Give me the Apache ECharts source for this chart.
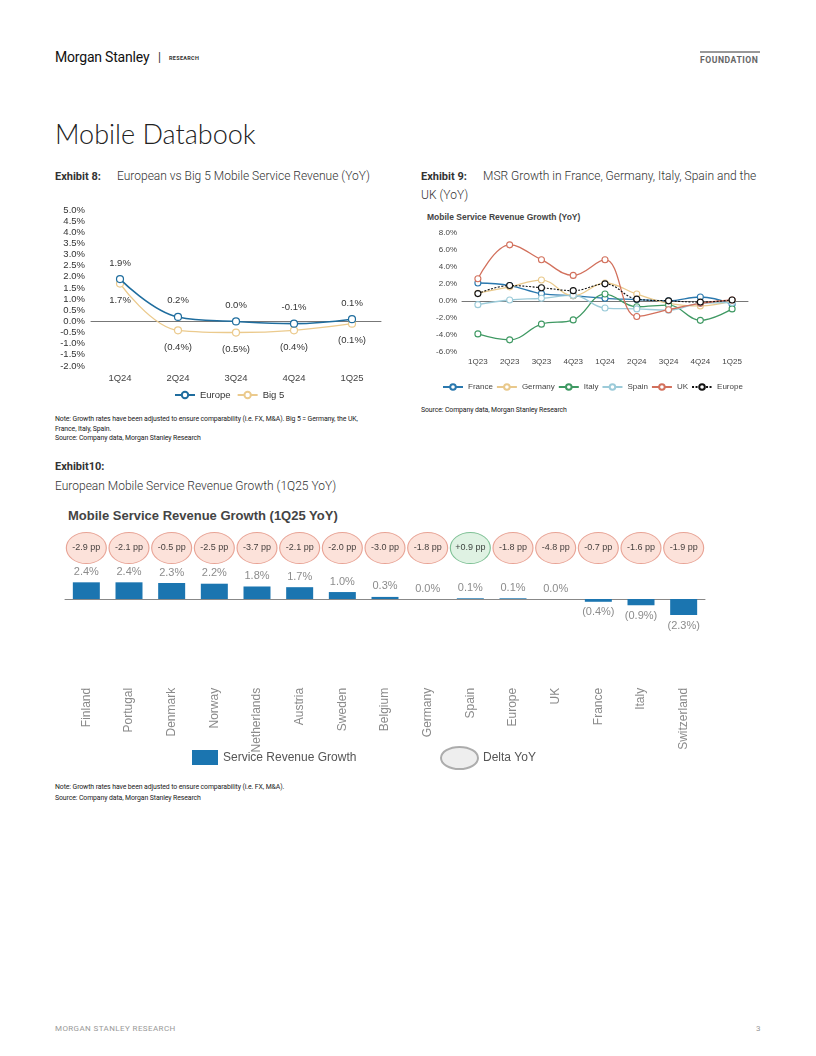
<!DOCTYPE html>
<html>
<head>
<meta charset="utf-8">
<script src="https://cdn.jsdelivr.net/npm/echarts@6/dist/echarts.min.js"></script>
<style>
  html, body { margin:0; padding:0; background:#fff; }
  #page { position:relative; width:816px; height:1056px; overflow:hidden; font-family:Roboto, "Liberation Sans", Arial, sans-serif; color:#222; }
  .abs { position:absolute; white-space:nowrap; }
  .ms { font-family:"Liberation Sans Narrow", "Roboto", sans-serif; font-size:14px; color:#111; letter-spacing:-0.2px; }
  .exh { font-size:11px; font-weight:bold; color:#333; }
  .sub { font-size:12px; font-weight:300; color:#333; }
  .note { font-size:6.9px; color:#222; letter-spacing:-0.1px; line-height:9.5px; }
  .chart { position:absolute; }
</style>
</head>
<body>
<div id="page">
  <div class="abs ms" style="left:55px; top:49px;">Morgan Stanley</div>
  <div class="abs" style="left:158px; top:50px; font-size:12px; color:#333;">|</div>
  <div class="abs" style="left:169px; top:55px; font-size:5.5px; font-weight:bold; color:#333; letter-spacing:0.3px;">RESEARCH</div>
  <div class="abs" style="left:700px; top:51px; width:60px; border-top:2px solid #999;"></div>
  <div class="abs" style="left:700px; top:55px; font-size:8.6px; font-weight:bold; color:#666; letter-spacing:0.55px;">FOUNDATION</div>

  <div class="abs" style="left:55px; top:117px; font-size:27px; font-weight:300; color:#222; font-family:Lato, Roboto, sans-serif;">Mobile Databook</div>

  <div class="abs exh" style="left:55px; top:170px;">Exhibit 8:</div>
  <div class="abs sub" style="left:117px; top:169px;">European vs Big 5 Mobile Service Revenue (YoY)</div>

  <div class="abs exh" style="left:421px; top:170px;">Exhibit 9:</div>
  <div class="abs sub" style="left:483px; top:169px;">MSR Growth in France, Germany, Italy, Spain and the</div>
  <div class="abs sub" style="left:421px; top:188px;">UK (YoY)</div>
  <div class="abs" style="left:427px; top:212px; font-size:8.5px; font-weight:bold; color:#444; font-family:'Liberation Sans', Arial, sans-serif;">Mobile Service Revenue Growth (YoY)</div>

  <div id="c8" class="chart" style="left:55px; top:195px; width:345px; height:215px;"></div>
  <div id="c9" class="chart" style="left:415px; top:225px; width:400px; height:175px;"></div>

  <div class="abs note" style="left:55px; top:415px;">Note: Growth rates have been adjusted to ensure comparability (i.e. FX, M&amp;A). Big 5 = Germany, the UK,<br>France, Italy, Spain.<br>Source: Company data, Morgan Stanley Research</div>
  <div class="abs note" style="left:421px; top:406px;">Source: Company data, Morgan Stanley Research</div>

  <div class="abs exh" style="left:55px; top:460px;">Exhibit10:</div>
  <div class="abs sub" style="left:55px; top:479px;">European Mobile Service Revenue Growth (1Q25 YoY)</div>
  <div class="abs" style="left:68px; top:508px; font-size:13px; font-weight:bold; color:#444; font-family:'Liberation Sans', Arial, sans-serif;">Mobile Service Revenue Growth (1Q25 YoY)</div>

  <div id="c10" class="chart" style="left:55px; top:525px; width:680px; height:255px;"></div>

  <div class="abs note" style="left:55px; top:782px; line-height:10.5px;">Note: Growth rates have been adjusted to ensure comparability (i.e. FX, M&amp;A).<br>Source: Company data, Morgan Stanley Research</div>

  <div class="abs" style="left:55px; top:1024px; font-size:8px; color:#999; letter-spacing:0.4px;">MORGAN STANLEY RESEARCH</div>
  <div class="abs" style="left:756px; top:1024px; font-size:8px; color:#999;">3</div>
</div>

<script>
// ---------- Data ----------
const ex8Categories = ['1Q24', '2Q24', '3Q24', '4Q24', '1Q25'];
const ex8Europe = [1.9, 0.2, 0.0, -0.1, 0.1];
const ex8Big5 = [1.7, -0.4, -0.5, -0.4, -0.1];

const ex9Categories = ['1Q23', '2Q23', '3Q23', '4Q23', '1Q24', '2Q24', '3Q24', '4Q24', '1Q25'];
const ex9France  = [2.1, 1.8, 0.85, 0.6, 0.3, 0.15, 0.0, 0.45, -0.4];
const ex9Germany = [0.9, 1.65, 2.45, 0.6, 2.1, 0.8, -0.3, -0.6, 0.0];
const ex9Italy   = [-3.9, -4.6, -2.75, -2.25, 0.8, -0.7, -0.5, -2.3, -0.95];
const ex9Spain   = [-0.45, 0.1, 0.3, 0.65, -0.85, -0.95, -1.1, -0.3, -0.2];
const ex9UK      = [2.6, 6.6, 4.85, 3.0, 4.85, -1.85, -1.05, -0.3, 0.1];
const ex9Europe  = [0.85, 1.8, 1.55, 1.2, 2.0, 0.2, 0.0, -0.15, 0.1];

const ex10Countries = ['Finland', 'Portugal', 'Denmark', 'Norway', 'Netherlands', 'Austria', 'Sweden', 'Belgium', 'Germany', 'Spain', 'Europe', 'UK', 'France', 'Italy', 'Switzerland'];
const ex10Growth = [2.4, 2.4, 2.3, 2.2, 1.8, 1.7, 1.0, 0.3, 0.0, 0.1, 0.1, 0.0, -0.4, -0.9, -2.3];
const ex10DeltaPP = [-2.9, -2.1, -0.5, -2.5, -3.7, -2.1, -2.0, -3.0, -1.8, 0.9, -1.8, -4.8, -0.7, -1.6, -1.9];

// ---------- Helpers ----------
const FONT = "'Liberation Sans', Arial, sans-serif";
const pctParen = v => v < 0 ? '(' + Math.abs(v).toFixed(1) + '%)' : v.toFixed(1) + '%';
const pctPlain = v => v.toFixed(1) + '%';

// ---------- Exhibit 8 ----------
const c8 = echarts.init(document.getElementById('c8'), null, { renderer: 'canvas' });
c8.setOption({
  animation: false,
  textStyle: { fontFamily: FONT },
  grid: { left: 36, top: 15, width: 290, height: 156, containLabel: false, outerBoundsMode: 'none' },
  legend: {
    left: 119, top: 195, padding: 0, itemWidth: 20, itemHeight: 8, itemGap: 6,
    textStyle: { fontSize: 9.5, color: '#333', fontFamily: FONT },
    data: ['Europe', 'Big 5']
  },
  xAxis: {
    type: 'category', data: ex8Categories,
    axisLine: { onZero: true, lineStyle: { color: '#777', width: 1 } },
    axisTick: { show: false },
    axisLabel: { margin: 7, fontSize: 9.5, color: '#444' }
  },
  yAxis: {
    type: 'value', min: -2, max: 5, interval: 0.5,
    axisLine: { show: false }, axisTick: { show: false }, splitLine: { show: false },
    axisLabel: { margin: 6, fontSize: 9.5, color: '#333', formatter: v => v.toFixed(1) + '%' }
  },
  series: [
    {
      name: 'Europe', type: 'line', data: ex8Europe, smooth: 0.4,
      symbol: 'circle', symbolSize: 7, z: 3,
      lineStyle: { color: '#1f6d9e', width: 1.6 },
      itemStyle: { color: '#ffffff', borderColor: '#1f6d9e', borderWidth: 1.2 },
      label: { show: true, position: 'top', distance: 7, fontSize: 9.5, color: '#333', formatter: p => pctPlain(p.value) }
    },
    {
      name: 'Big 5', type: 'line', data: ex8Big5, smooth: 0.4,
      symbol: 'circle', symbolSize: 7, z: 2,
      lineStyle: { color: '#ebca8d', width: 1.4 },
      itemStyle: { color: '#ffffff', borderColor: '#ebca8d', borderWidth: 1.2 },
      label: { show: true, position: 'bottom', distance: 8, fontSize: 9.5, color: '#333', formatter: p => pctParen(p.value) }
    }
  ]
});

// ---------- Exhibit 9 ----------
const c9 = echarts.init(document.getElementById('c9'), null, { renderer: 'canvas' });
function ex9Series(name, data, color, dashed) {
  return {
    name: name, type: 'line', data: data, smooth: 0.4,
    symbol: 'circle', symbolSize: 6,
    lineStyle: { color: color, width: dashed ? 1.1 : 1.3, type: dashed ? [2, 1.5] : 'solid' },
    itemStyle: { color: '#ffffff', borderColor: color, borderWidth: 1.1 },
    z: dashed ? 5 : 3
  };
}
c9.setOption({
  animation: false,
  textStyle: { fontFamily: FONT },
  grid: { left: 47, top: 8, width: 286, height: 118.7, containLabel: false, outerBoundsMode: 'none' },
  legend: {
    left: 27, top: 158, padding: 0, itemWidth: 20, itemHeight: 7, itemGap: 3,
    textStyle: { fontSize: 8, color: '#444', fontFamily: FONT },
    data: ['France', 'Germany', 'Italy', 'Spain', 'UK', 'Europe']
  },
  xAxis: {
    type: 'category', data: ex9Categories,
    axisLine: { onZero: true, lineStyle: { color: '#777', width: 1 } },
    axisTick: { show: false },
    axisLabel: { margin: 6, fontSize: 8, color: '#444' }
  },
  yAxis: {
    type: 'value', min: -6, max: 8, interval: 2,
    axisLine: { show: false }, axisTick: { show: false }, splitLine: { show: false },
    axisLabel: { margin: 5, fontSize: 8, color: '#444', formatter: v => v.toFixed(1) + '%' }
  },
  series: [
    ex9Series('France', ex9France, '#2a78ae', false),
    ex9Series('Germany', ex9Germany, '#e9c98c', false),
    ex9Series('Italy', ex9Italy, '#3f9963', false),
    ex9Series('Spain', ex9Spain, '#9ccbd9', false),
    ex9Series('UK', ex9UK, '#d2705c', false),
    ex9Series('Europe', ex9Europe, '#111111', true)
  ]
});

// ---------- Exhibit 10 ----------
const c10 = echarts.init(document.getElementById('c10'), null, { renderer: 'canvas' });
const ELLIPSE = 'path://M0,50 A50,50 0 1 1 100,50 A50,50 0 1 1 0,50 Z';
const ELLIPSE_LEGEND = 'path://M0,11 A18.5,11 0 1 1 37,11 A18.5,11 0 1 1 0,11 Z';
const deltaData = ex10DeltaPP.map((d, i) => ({
  value: [i, 0],
  itemStyle: d > 0
    ? { color: '#d7efdc', borderColor: '#63b37e', borderWidth: 1 }
    : { color: '#fbdbd1', borderColor: '#e2907f', borderWidth: 1 }
}));
c10.setOption({
  animation: false,
  textStyle: { fontFamily: FONT },
  grid: [
    { left: 10, top: 18.4, width: 640, height: 83.4, containLabel: false, outerBoundsMode: 'none' },
    { left: 10, top: 8, width: 640, height: 30, containLabel: false, outerBoundsMode: 'none' }
  ],
  legend: [
    {
      left: 137, top: 225, padding: 0, itemWidth: 26, itemHeight: 15, icon: 'rect',
      textStyle: { fontSize: 12, color: '#555', fontFamily: FONT },
      data: ['Service Revenue Growth']
    },
    {
      left: 385, top: 221, padding: 0, itemWidth: 37, itemHeight: 22,
      textStyle: { fontSize: 12, color: '#555', fontFamily: FONT },
      data: [{ name: 'Delta YoY', icon: ELLIPSE_LEGEND }]
    }
  ],
  xAxis: [
    {
      type: 'category', data: ex10Countries, gridIndex: 0,
      axisLine: { onZero: true, lineStyle: { color: '#888', width: 1 } },
      axisTick: { show: false },
      axisLabel: { rotate: 90, margin: 61, fontSize: 12, color: '#8a8a8a', interval: 0 }
    },
    {
      type: 'category', data: ex10Countries, gridIndex: 1, show: false
    }
  ],
  yAxis: [
    { type: 'value', gridIndex: 0, min: -4, max: 8, show: false },
    { type: 'value', gridIndex: 1, min: -1, max: 1, show: false }
  ],
  series: [
    {
      name: 'Service Revenue Growth', type: 'bar',
      data: ex10Growth.map(v => v < 0 ? { value: v, label: { position: 'bottom' } } : v),
      xAxisIndex: 0, yAxisIndex: 0, barWidth: 27,
      itemStyle: { color: '#1b75b0' },
      label: {
        show: true, fontSize: 11, color: '#8c8c8c',
        position: 'top', distance: 5,
        formatter: p => pctParen(p.value)
      }
    },
    {
      name: 'Delta YoY', type: 'scatter', data: deltaData,
      xAxisIndex: 1, yAxisIndex: 1,
      symbol: ELLIPSE, symbolSize: [40, 31],
      itemStyle: { color: '#eaeaea', borderColor: '#9a9a9a', borderWidth: 1 },
      label: {
        show: true, position: 'inside', fontSize: 9, color: '#111', letterSpacing: -0.2,
        formatter: p => { const d = ex10DeltaPP[p.dataIndex]; return (d > 0 ? '+' : '') + d.toFixed(1) + ' pp'; }
      }
    }
  ]
});
</script>
</body>
</html>
